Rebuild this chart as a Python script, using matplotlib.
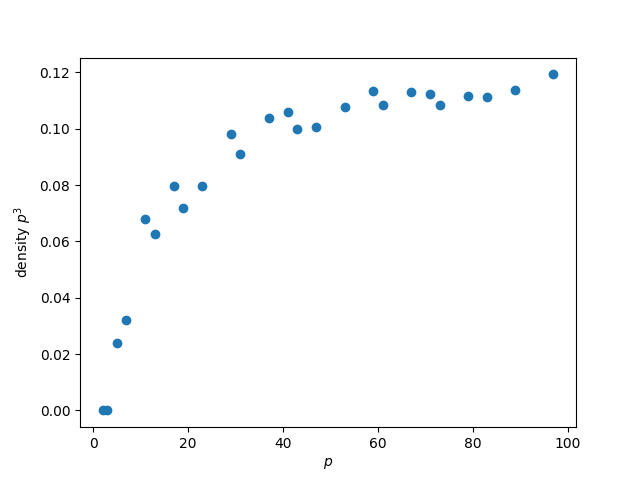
import matplotlib
matplotlib.use("Agg")
import matplotlib.pyplot as plt

primes = [2, 3, 5, 7, 11, 13, 17, 19, 23, 29, 31, 37, 41, 43, 47,
          53, 59, 61, 67, 71, 73, 79, 83, 89, 97]
density = [0.0, 0.0, 0.0238, 0.0320, 0.0678, 0.0628, 0.0795, 0.0717,
           0.0795, 0.0983, 0.0912, 0.1037, 0.1058, 0.0998, 0.1008,
           0.1076, 0.1133, 0.1083, 0.1129, 0.1125, 0.1083, 0.1115,
           0.1111, 0.1136, 0.1193]

fig, ax = plt.subplots(figsize=(6.4, 4.8), dpi=100)
ax.scatter(primes, density)
ax.set_xlabel("$p$")
ax.set_ylabel("density $p^3$")
fig.savefig("out.png")
